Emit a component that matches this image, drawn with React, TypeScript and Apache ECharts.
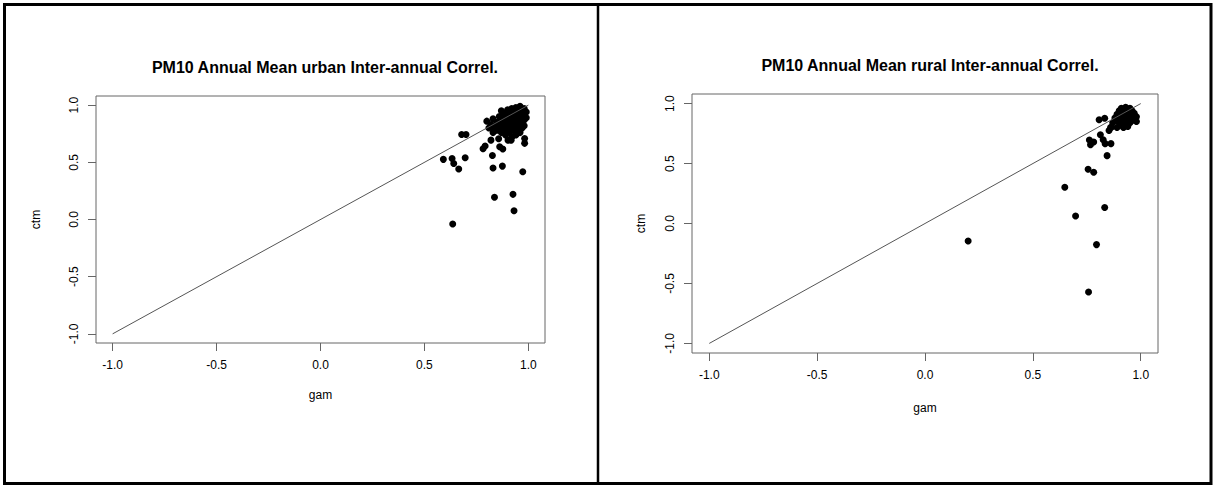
import React, { useEffect, useRef } from "react";
import * as echarts from "echarts";

const urbanTitle = "PM10 Annual Mean urban Inter-annual Correl.";
const ruralTitle = "PM10 Annual Mean rural Inter-annual Correl.";
const tickValues = [-1, -0.5, 0, 0.5, 1];
const diagonal = [[-1, -1], [1, 1]];

const urbanPoints = [
  [0.636, -0.04], [0.837, 0.194], [0.926, 0.22], [0.931, 0.077], [0.973, 0.418],
  [0.83, 0.45], [0.875, 0.467], [0.827, 0.56], [0.591, 0.526], [0.633, 0.534],
  [0.641, 0.49], [0.665, 0.441], [0.696, 0.54], [0.679, 0.744], [0.70, 0.744],
  [0.782, 0.618], [0.792, 0.642], [0.82, 0.694], [0.862, 0.636], [0.877, 0.616],
  [0.857, 0.706], [0.902, 0.694], [0.917, 0.694], [0.982, 0.709], [0.982, 0.666],
  [0.80, 0.86], [0.81, 0.80], [0.82, 0.83], [0.83, 0.88], [0.84, 0.82], [0.85, 0.85],
  [0.85, 0.78], [0.86, 0.90], [0.86, 0.80], [0.87, 0.84], [0.87, 0.76], [0.88, 0.88],
  [0.88, 0.81], [0.88, 0.92], [0.89, 0.86], [0.89, 0.78], [0.89, 0.74], [0.90, 0.90],
  [0.90, 0.83], [0.90, 0.80], [0.91, 0.94], [0.91, 0.87], [0.91, 0.76], [0.92, 0.91],
  [0.92, 0.85], [0.92, 0.81], [0.92, 0.72], [0.93, 0.95], [0.93, 0.88], [0.93, 0.83],
  [0.93, 0.78], [0.94, 0.92], [0.94, 0.86], [0.94, 0.80], [0.94, 0.74], [0.95, 0.96],
  [0.95, 0.90], [0.95, 0.84], [0.95, 0.79], [0.96, 0.93], [0.96, 0.88], [0.96, 0.82],
  [0.96, 0.76], [0.97, 0.95], [0.97, 0.90], [0.97, 0.85], [0.97, 0.80], [0.98, 0.97],
  [0.98, 0.92], [0.98, 0.87], [0.98, 0.82], [0.99, 0.94], [0.99, 0.89], [0.90, 0.96],
  [0.92, 0.97], [0.94, 0.98], [0.96, 0.99], [0.87, 0.95], [0.89, 0.93], [0.86, 0.86],
  [0.84, 0.78], [0.83, 0.76], [0.82, 0.81],
];

const ruralPoints = [
  [0.20, -0.146], [0.648, 0.303], [0.698, 0.062], [0.833, 0.134], [0.795, -0.176],
  [0.758, -0.571], [0.756, 0.452], [0.782, 0.427], [0.844, 0.566], [0.762, 0.696],
  [0.767, 0.657], [0.782, 0.679], [0.826, 0.699], [0.835, 0.666], [0.862, 0.666],
  [0.813, 0.74], [0.807, 0.865], [0.833, 0.878], [0.853, 0.776], [0.864, 0.803],
  [0.88, 0.88], [0.89, 0.91], [0.89, 0.86], [0.90, 0.94], [0.90, 0.89], [0.90, 0.84],
  [0.91, 0.96], [0.91, 0.92], [0.91, 0.87], [0.91, 0.82], [0.92, 0.95], [0.92, 0.90],
  [0.92, 0.85], [0.92, 0.80], [0.93, 0.97], [0.93, 0.93], [0.93, 0.88], [0.93, 0.83],
  [0.94, 0.95], [0.94, 0.91], [0.94, 0.86], [0.94, 0.81], [0.95, 0.96], [0.95, 0.92],
  [0.95, 0.88], [0.95, 0.84], [0.96, 0.94], [0.96, 0.90], [0.96, 0.86], [0.97, 0.92],
  [0.97, 0.87], [0.98, 0.89], [0.98, 0.85], [0.87, 0.84], [0.86, 0.80], [0.89, 0.80],
];

const FONT = "'Liberation Sans', Arial, Helvetica, sans-serif";

function xAxisFor(gridIndex: number, nameGap: number) {
  return {
    gridIndex,
    type: "value",
    min: -1.08,
    max: 1.08,
    name: "gam",
    nameLocation: "middle",
    nameGap,
    nameTextStyle: { fontFamily: FONT, fontSize: 12, color: "#000" },
    splitLine: { show: false },
    axisLine: { show: false, onZero: false },
    axisTick: { show: true, length: 8, customValues: tickValues, lineStyle: { color: "#666" } },
    axisLabel: {
      customValues: tickValues,
      margin: 16,
      fontFamily: FONT,
      fontSize: 12,
      color: "#000",
      formatter: (v: number) => v.toFixed(1),
    },
  };
}

function yAxisFor(gridIndex: number, nameGap: number) {
  return {
    gridIndex,
    type: "value",
    min: -1.08,
    max: 1.08,
    name: "ctm",
    nameLocation: "middle",
    nameGap,
    nameTextStyle: { fontFamily: FONT, fontSize: 12, color: "#000" },
    splitLine: { show: false },
    axisLine: { show: false, onZero: false },
    axisTick: { show: true, length: 8, customValues: tickValues, lineStyle: { color: "#666" } },
    axisLabel: {
      customValues: tickValues,
      rotate: 90,
      margin: 16,
      fontFamily: FONT,
      fontSize: 12,
      color: "#000",
      formatter: (v: number) => v.toFixed(1),
    },
  };
}

export default function App() {
  const ref = useRef<HTMLDivElement>(null);
  useEffect(() => {
    if (!ref.current) return;
    const chart = echarts.init(ref.current, null, { renderer: "svg" });
    chart.setOption({
      animation: false,
      backgroundColor: "#fff",
      title: [
        {
          text: urbanTitle,
          left: 320,
          top: 54,
          textAlign: "center",
          textStyle: { fontFamily: FONT, fontSize: 16, fontWeight: "bold", color: "#000" },
        },
        {
          text: ruralTitle,
          left: 925,
          top: 52,
          textAlign: "center",
          textStyle: { fontFamily: FONT, fontSize: 16, fontWeight: "bold", color: "#000" },
        },
      ],
      grid: [
        { left: 96, top: 96, width: 449, height: 247, show: true, borderColor: "#666", borderWidth: 1, backgroundColor: "transparent" },
        { left: 692, top: 94, width: 466, height: 259, show: true, borderColor: "#666", borderWidth: 1, backgroundColor: "transparent" },
      ],
      xAxis: [xAxisFor(0, 46), xAxisFor(1, 49)],
      yAxis: [yAxisFor(0, 54), yAxisFor(1, 45)],
      series: [
        {
          type: "line",
          xAxisIndex: 0,
          yAxisIndex: 0,
          data: diagonal,
          symbol: "none",
          lineStyle: { color: "#555", width: 1 },
          silent: true,
        },
        {
          type: "scatter",
          xAxisIndex: 0,
          yAxisIndex: 0,
          data: urbanPoints,
          symbol: "circle",
          symbolSize: 7,
          itemStyle: { color: "#000", opacity: 1 },
        },
        {
          type: "line",
          xAxisIndex: 1,
          yAxisIndex: 1,
          data: diagonal,
          symbol: "none",
          lineStyle: { color: "#555", width: 1 },
          silent: true,
        },
        {
          type: "scatter",
          xAxisIndex: 1,
          yAxisIndex: 1,
          data: ruralPoints,
          symbol: "circle",
          symbolSize: 7,
          itemStyle: { color: "#000", opacity: 1 },
        },
      ],
      graphic: [
        {
          type: "rect",
          shape: { x: 4.5, y: 4.5, width: 1206.5, height: 479 },
          style: { fill: "none", stroke: "#000", lineWidth: 3 },
          silent: true,
        },
        {
          type: "line",
          shape: { x1: 598, y1: 4.5, x2: 598, y2: 483.5 },
          style: { stroke: "#000", lineWidth: 2.5 },
          silent: true,
        },
      ],
    });
    return () => chart.dispose();
  }, []);
  return (
    <div
      ref={ref}
      style={{ position: "fixed", left: 0, top: 0, width: 1213, height: 487 }}
    />
  );
}
